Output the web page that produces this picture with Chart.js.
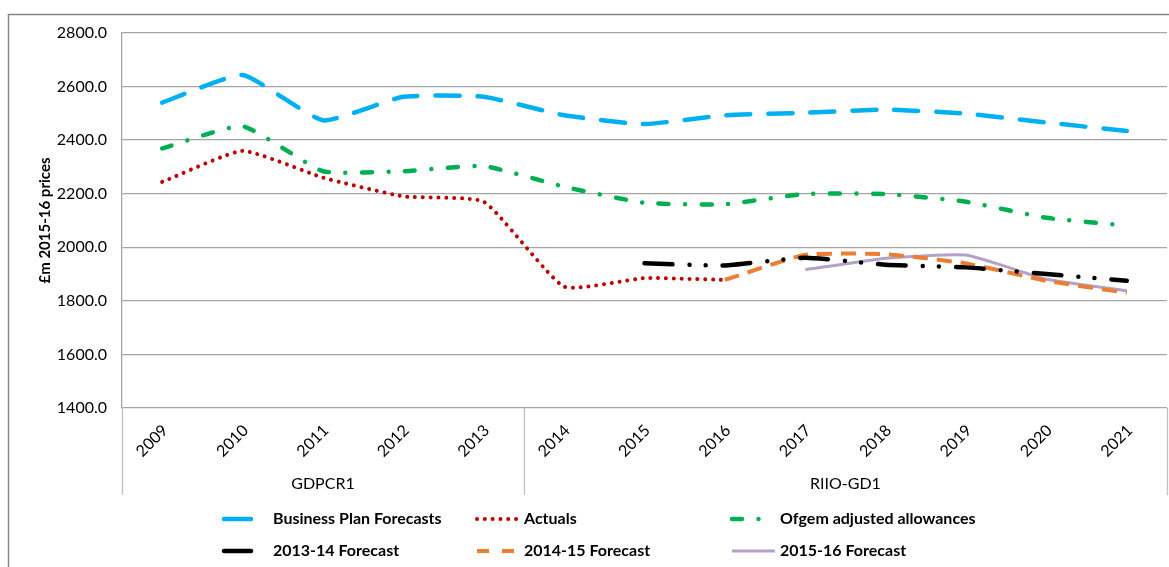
<!DOCTYPE html>
<html>
<head>
<meta charset="utf-8">
<script src="https://cdn.jsdelivr.net/npm/chart.js@4.4.1/dist/chart.umd.min.js"></script>
<style>
  html, body { margin: 0; padding: 0; background: #fff; }
  #wrap { width: 1169px; height: 567px; position: relative; }
</style>
</head>
<body>
<div id="wrap"><canvas id="line-chart"></canvas></div>
<script>
// categories and values
var years = ["2009", "2010", "2011", "2012", "2013", "2014", "2015", "2016", "2017", "2018", "2019", "2020", "2021"];
var businessPlan = [2540, 2643, 2474, 2562, 2562, 2493, 2460, 2493, 2502, 2514, 2499, 2466, 2434];
var actuals = [2244, 2360, 2260, 2190, 2170, 1853, 1885, 1878, null, null, null, null, null];
var ofgemAllowances = [2369, 2452, 2284, 2284, 2303, 2226, 2166, 2161, 2199, 2199, 2170, 2110, 2081];
var forecast1314 = [null, null, null, null, null, null, 1940, 1932, 1961, 1935, 1925, 1900, 1875];
var forecast1415 = [null, null, null, null, null, null, null, 1878, 1972, 1974, 1940, 1875, 1830];
var forecast1516 = [null, null, null, null, null, null, null, null, 1916, 1959, 1971, 1881, 1838];
var groupLabels = ["GDPCR1", "RIIO-GD1"];
var groupFirst = [0, 5];
var groupLast = [4, 12];

var FONT = "Lato, 'Open Sans', sans-serif";

document.addEventListener("DOMContentLoaded", function () {
  var ctx = document.getElementById("line-chart").getContext("2d");

  var common = {
    fill: false,
    pointRadius: 0,
    pointHoverRadius: 0,
    tension: 0.15,
    spanGaps: false,
  };

  // draws the group labels, separators, outer frame and the 3-column legend
  var extras = {
    id: "extras",
    afterDraw: function (chart) {
      var c = chart.ctx;
      var area = chart.chartArea;
      var xs = chart.scales.x;
      c.save();

      // outer frame (only left and top are on the picture)
      c.strokeStyle = "#868686";
      c.lineWidth = 1.5;
      c.strokeRect(8.5, 14.5, 1200, 600);

      // group edges, half way between the last and first category of each group
      var edges = [area.left];
      groupLast.forEach(function (last, i) {
        if (i < groupLast.length - 1) {
          edges.push((xs.getPixelForValue(last) + xs.getPixelForValue(groupFirst[i + 1])) / 2);
        }
      });
      edges.push(area.right);

      c.strokeStyle = "#bfbfbf";
      c.lineWidth = 1.3;
      edges.forEach(function (x) {
        c.beginPath();
        c.moveTo(Math.round(x) + 0.5, area.bottom);
        c.lineTo(Math.round(x) + 0.5, 495);
        c.stroke();
      });

      // group labels
      c.fillStyle = "#000";
      c.font = "16px " + FONT;
      c.textAlign = "center";
      c.textBaseline = "middle";
      groupLabels.forEach(function (lbl, i) {
        c.fillText(lbl, (edges[i] + edges[i + 1]) / 2, 484);
      });

      // legend
      var sampleX = [222, 475, 730];
      var textX = [273, 524, 780];
      var rowY = [519, 551];
      c.textAlign = "left";
      c.font = "bold 16px " + FONT;
      chart.data.datasets.forEach(function (ds, i) {
        var col = i % 3;
        var row = Math.floor(i / 3);
        var y = rowY[row];
        c.save();
        c.strokeStyle = ds.borderColor;
        c.lineWidth = ds.borderWidth;
        c.lineCap = ds.borderCapStyle || "butt";
        c.setLineDash(ds.legendDash || ds.borderDash || []);
        c.beginPath();
        c.moveTo(sampleX[col] + 2, y);
        c.lineTo(sampleX[col] + 45, y);
        c.stroke();
        c.restore();
        c.fillStyle = "#000";
        c.fillText(ds.label, textX[col], y);
      });

      c.restore();
    },
  };

  new Chart(ctx, {
    type: "line",
    data: {
      labels: years,
      datasets: [
        {
          label: "Business Plan Forecasts",
          data: businessPlan,
          ...common,
          borderColor: "#00b0f0",
          borderWidth: 4.5,
          borderCapStyle: "round",
          borderDash: [24, 18],
          legendDash: [27, 40],
        },
        {
          label: "Actuals",
          data: actuals,
          ...common,
          borderColor: "#c00000",
          borderWidth: 4,
          borderCapStyle: "round",
          borderDash: [0.01, 7.8],
        },
        {
          label: "Ofgem adjusted allowances",
          data: ofgemAllowances,
          ...common,
          borderColor: "#00b050",
          borderWidth: 4.5,
          borderCapStyle: "round",
          borderDash: [10, 16.5, 0.01, 16.5],
        },
        {
          label: "2013-14 Forecast",
          data: forecast1314,
          ...common,
          borderColor: "#000000",
          borderWidth: 4.5,
          borderCapStyle: "round",
          borderDash: [28, 17, 0.01, 16, 0.01, 17],
          legendDash: [27, 40],
        },
        {
          label: "2014-15 Forecast",
          data: forecast1415,
          ...common,
          borderColor: "#ed7d31",
          borderWidth: 4,
          borderCapStyle: "butt",
          borderDash: [15, 9],
          legendDash: [12, 13],
        },
        {
          label: "2015-16 Forecast",
          data: forecast1516,
          ...common,
          borderColor: "#b3a2c7",
          borderWidth: 3,
        },
      ],
    },
    options: {
      responsive: true,
      maintainAspectRatio: false,
      animation: false,
      devicePixelRatio: 1,
      layout: {
        padding: { left: 0, top: 33, right: 2, bottom: 0 },
      },
      plugins: {
        legend: { display: false },
        tooltip: { enabled: false },
      },
      scales: {
        x: {
          offset: true,
          grid: { display: false, drawTicks: false },
          border: { display: false },
          ticks: {
            autoSkip: false,
            minRotation: 45,
            maxRotation: 45,
            padding: 13,
            labelOffset: 3,
            color: "#000",
            font: { family: FONT, size: 16 },
          },
          afterFit: function (scale) {
            scale.height = 159;
            scale.paddingLeft = 0;
            scale.paddingRight = 0;
          },
        },
        y: {
          min: 1400,
          max: 2800,
          grid: { color: "#a6a6a6", lineWidth: 1.3, drawTicks: false },
          border: { display: true, color: "#a6a6a6", width: 1.3 },
          ticks: {
            stepSize: 200,
            padding: 15,
            color: "#000",
            font: { family: FONT, size: 16 },
            callback: function (value) {
              return value.toFixed(1);
            },
          },
          title: {
            display: true,
            text: "£m 2015-16 prices",
            color: "#000",
            font: { family: FONT, size: 15, weight: "bold" },
            padding: { top: 36, bottom: 0 },
          },
          afterFit: function (scale) {
            scale.width = 122;
          },
        },
      },
    },
    plugins: [extras],
  });
});
</script>
</body>
</html>
